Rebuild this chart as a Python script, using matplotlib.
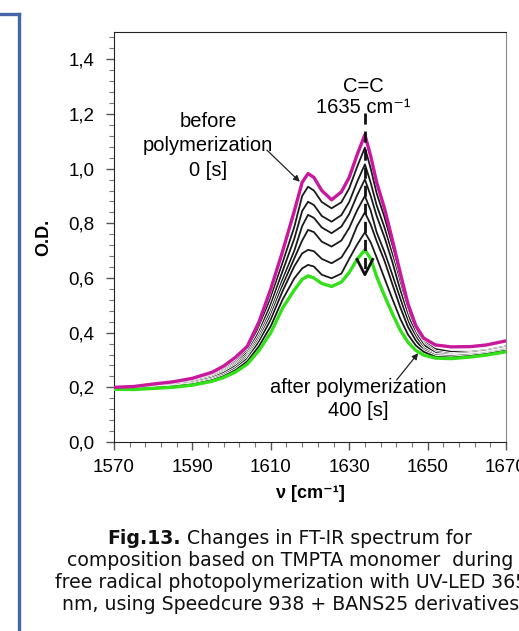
import matplotlib
matplotlib.use('Agg')
import matplotlib.pyplot as plt
import matplotlib.patheffects as pe
from matplotlib.lines import Line2D

plt.rcParams['font.family'] = ['Liberation Sans', 'DejaVu Sans']

# wavenumber grid [cm-1]
wavenumber = [1570, 1575, 1580, 1585, 1590, 1595, 1598, 1601, 1604, 1607,
              1610, 1613, 1616, 1618, 1619.5, 1621, 1623, 1625.5, 1628, 1630,
              1632, 1634, 1635.5, 1637, 1639, 1641, 1643, 1645, 1647, 1649,
              1652, 1656, 1661, 1665, 1670]

# before polymerization, 0 s
od_0s = [0.200, 0.203, 0.212, 0.220, 0.233, 0.255, 0.278, 0.310, 0.350, 0.440,
         0.560, 0.697, 0.845, 0.950, 0.982, 0.968, 0.920, 0.886, 0.915, 0.968,
         1.050, 1.124, 1.045, 0.950, 0.855, 0.740, 0.620, 0.505, 0.425, 0.380,
         0.355, 0.348, 0.349, 0.355, 0.370]

# intermediate irradiation times
od_t1 = [0.198, 0.200, 0.207, 0.214, 0.225, 0.245, 0.265, 0.294, 0.335, 0.419,
         0.528, 0.656, 0.787, 0.900, 0.934, 0.920, 0.878, 0.855, 0.877, 0.928,
         1.006, 1.077, 1.000, 0.910, 0.823, 0.713, 0.599, 0.491, 0.413, 0.367,
         0.340, 0.330, 0.330, 0.336, 0.350]
od_t2 = [0.197, 0.199, 0.206, 0.212, 0.223, 0.242, 0.261, 0.288, 0.327, 0.403,
         0.504, 0.625, 0.744, 0.845, 0.879, 0.867, 0.827, 0.806, 0.830, 0.878,
         0.951, 1.016, 0.948, 0.866, 0.785, 0.686, 0.578, 0.477, 0.407, 0.361,
         0.331, 0.322, 0.326, 0.333, 0.346]
od_t3 = [0.197, 0.198, 0.204, 0.210, 0.221, 0.239, 0.257, 0.283, 0.318, 0.388,
         0.480, 0.594, 0.700, 0.790, 0.831, 0.820, 0.785, 0.764, 0.788, 0.834,
         0.902, 0.961, 0.900, 0.827, 0.749, 0.659, 0.557, 0.463, 0.398, 0.355,
         0.326, 0.318, 0.322, 0.329, 0.342]
od_t4 = [0.196, 0.196, 0.202, 0.208, 0.218, 0.235, 0.253, 0.278, 0.311, 0.377,
         0.464, 0.573, 0.672, 0.737, 0.776, 0.768, 0.733, 0.715, 0.737, 0.783,
         0.847, 0.900, 0.846, 0.767, 0.695, 0.612, 0.526, 0.442, 0.385, 0.343,
         0.319, 0.316, 0.320, 0.327, 0.340]
od_t5 = [0.195, 0.195, 0.200, 0.205, 0.214, 0.230, 0.246, 0.270, 0.305, 0.367,
         0.448, 0.552, 0.643, 0.690, 0.703, 0.698, 0.670, 0.654, 0.675, 0.720,
         0.790, 0.840, 0.795, 0.735, 0.663, 0.578, 0.494, 0.421, 0.371, 0.336,
         0.317, 0.314, 0.319, 0.325, 0.338]
od_t6 = [0.194, 0.193, 0.198, 0.203, 0.211, 0.226, 0.241, 0.263, 0.295, 0.351,
         0.424, 0.521, 0.599, 0.635, 0.648, 0.642, 0.612, 0.599, 0.616, 0.670,
         0.722, 0.767, 0.730, 0.675, 0.599, 0.524, 0.452, 0.393, 0.353, 0.330,
         0.312, 0.309, 0.315, 0.322, 0.334]

# after polymerization, 400 s
od_400s = [0.193, 0.192, 0.196, 0.200, 0.208, 0.222, 0.236, 0.256, 0.285, 0.335,
           0.400, 0.490, 0.556, 0.595, 0.608, 0.600, 0.580, 0.569, 0.585, 0.620,
           0.668, 0.703, 0.670, 0.605, 0.535, 0.470, 0.410, 0.365, 0.335, 0.318,
           0.307, 0.305, 0.311, 0.318, 0.330]

intermediate = [od_t1, od_t2, od_t3, od_t4, od_t5, od_t6]

y_ticks = [0.0, 0.2, 0.4, 0.6, 0.8, 1.0, 1.2, 1.4]
y_tick_labels = ['0,0', '0,2', '0,4', '0,6', '0,8', '1,0', '1,2', '1,4']
x_ticks = [1570, 1590, 1610, 1630, 1650, 1670]

W, H = 519, 631


def fx(px):
    return px / W


def fy(py):
    return 1 - py / H


fig = plt.figure(figsize=(W / 100, H / 100), dpi=100)
ax = fig.add_axes([fx(114), fy(442), fx(506) - fx(114), fy(32) - fy(442)])

halo = [pe.Stroke(linewidth=2.6, foreground='white'), pe.Normal()]
for od in intermediate:
    ax.plot(wavenumber, od, color='#1a1a1a', lw=1.3, path_effects=halo, zorder=3)
ax.plot(wavenumber, od_400s, color='#33e01a', lw=2.4, zorder=4)
ax.plot(wavenumber, od_0s, color='#c8189c', lw=2.4, zorder=5)

ax.set_xlim(1570, 1670)
ax.set_ylim(0, 1.5)
ax.set_xticks(x_ticks)
ax.set_xticks(range(1570, 1671, 4), minor=True)
ax.set_yticks(y_ticks)
ax.set_yticklabels(y_tick_labels)
ax.set_yticks([i * 0.04 for i in range(38)], minor=True)
ax.tick_params(which='major', direction='out', length=6, width=1,
               color='#555555', labelsize=13.5, pad=6)
ax.tick_params(axis='y', which='major', pad=8)
ax.tick_params(which='minor', direction='out', length=3.5, width=0.8,
               color='#777777')
for side in ['left', 'bottom', 'top']:
    ax.spines[side].set_color('#222222')
ax.spines['right'].set_color('#888888')

ax.set_ylabel('O.D.', fontsize=13, fontweight='bold', labelpad=12)
ax.set_xlabel('ν [cm⁻¹]', fontsize=13, fontweight='bold', labelpad=7)

# band marker at 1635 cm-1
ax.plot([1634, 1634], [1.205, 0.615], color='#111111', lw=2,
        dashes=(4, 2.5), zorder=6)
ax.plot([1632, 1634, 1636], [0.668, 0.612, 0.668], color='#111111', lw=2,
        zorder=6)
ax.text(1633.5, 1.299, 'C=C', ha='center', va='center', fontsize=14.5)
ax.text(1633.5, 1.222, '1635 cm⁻¹', ha='center', va='center', fontsize=14.5)

ax.text(1594.0, 1.083, 'before\npolymerization\n0 [s]', ha='center',
        va='center', fontsize=14.5, linespacing=1.35)
ax.annotate('', xy=(1617.4, 0.952), xytext=(1609.0, 1.068),
            arrowprops=dict(arrowstyle='-|>', color='#222222', lw=0.9,
                            mutation_scale=9, shrinkA=0, shrinkB=0))

ax.text(1632.2, 0.158, 'after polymerization\n400 [s]', ha='center',
        va='center', fontsize=14.5, linespacing=1.25)
ax.annotate('', xy=(1647.6, 0.325), xytext=(1642.1, 0.227),
            arrowprops=dict(arrowstyle='-|>', color='#222222', lw=0.9,
                            mutation_scale=9, shrinkA=0, shrinkB=0))

# page frame on the left
frame_color = '#4766a6'
fig.add_artist(Line2D([fx(18.5), fx(18.5)], [0, fy(13.5)], color=frame_color,
                      lw=2.4, transform=fig.transFigure))
fig.add_artist(Line2D([0, fx(18.5)], [fy(13.5), fy(13.5)], color=frame_color,
                      lw=2.4, transform=fig.transFigure))

# caption
cap = dict(family=['DejaVu Sans'], fontsize=13.6, va='center', color='#111111')
fig.text(fx(181), fy(538), 'Fig.13.', ha='right', fontweight='bold', **cap)
fig.text(fx(187), fy(538), 'Changes in FT-IR spectrum for', ha='left', **cap)
fig.text(fx(290), fy(560), 'composition based on TMPTA monomer  during', ha='center', **cap)
fig.text(fx(291), fy(582), 'free radical photopolymerization with UV-LED 365', ha='center', **cap)
fig.text(fx(291), fy(605), 'nm, using Speedcure 938 + BANS25 derivatives', ha='center', **cap)

fig.savefig('out.png', dpi=100)
